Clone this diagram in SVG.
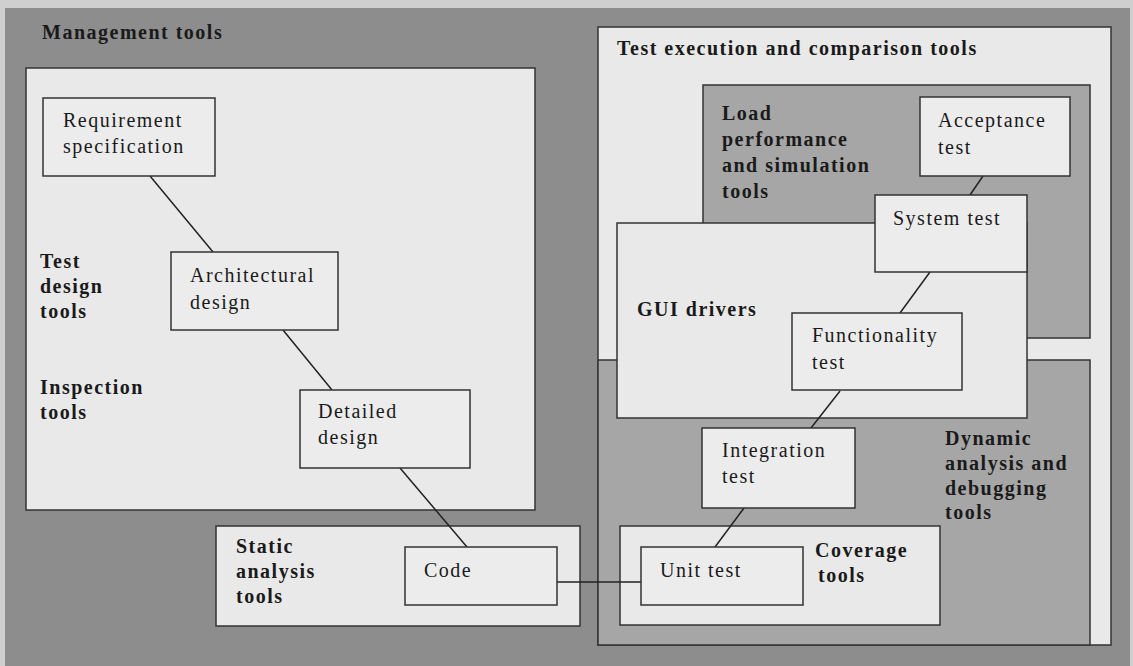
<svg xmlns="http://www.w3.org/2000/svg" width="1133" height="666" viewBox="0 0 1133 666">
<style>
.bg{fill:#8d8d8d}
.panel{fill:#e9e9e9;stroke:#333;stroke-width:1.5}
.dark{fill:#a6a6a6;stroke:#333;stroke-width:1.5}
.box{fill:#ececec;stroke:#333;stroke-width:1.5}
.lbl{font-family:"Liberation Serif",serif;font-weight:bold;font-size:20px;letter-spacing:1.5px;fill:#1a1a1a}
.txt{font-family:"Liberation Serif",serif;font-size:20px;letter-spacing:1.5px;fill:#1a1a1a}
.con line{stroke:#222;stroke-width:1.5}
</style>
<rect x="0" y="0" width="1133" height="666" fill="#cfcfcf"/>
<rect class="bg" x="5" y="8" width="1125" height="658"/>
<g id="management">
<rect class="panel" x="26" y="68" width="509" height="442"/>
<text class="lbl" x="42" y="39">Management tools</text>
<text class="lbl" x="40" y="268">Test</text>
<text class="lbl" x="40" y="293">design</text>
<text class="lbl" x="40" y="318">tools</text>
<text class="lbl" x="40" y="394">Inspection</text>
<text class="lbl" x="40" y="419">tools</text>
</g>
<g id="static">
<rect class="panel" x="216" y="526" width="364" height="100"/>
<text class="lbl" x="236" y="553">Static</text>
<text class="lbl" x="236" y="578">analysis</text>
<text class="lbl" x="236" y="603">tools</text>
</g>
<g id="execution">
<rect class="panel" x="598" y="27" width="513" height="618"/>
<text class="lbl" x="617" y="55">Test execution and comparison tools</text>
</g>
<g id="load">
<rect class="dark" x="703" y="85" width="387" height="253" fill="#a2a2a2"/>
<text class="lbl" x="722" y="120">Load</text>
<text class="lbl" x="722" y="146">performance</text>
<text class="lbl" x="722" y="172">and simulation</text>
<text class="lbl" x="722" y="198">tools</text>
</g>
<g id="dynamic">
<rect class="dark" x="598" y="360" width="492" height="285" fill="#ababab"/>
<text class="lbl" x="945" y="445">Dynamic</text>
<text class="lbl" x="945" y="470">analysis  and</text>
<text class="lbl" x="945" y="495">debugging</text>
<text class="lbl" x="945" y="519">tools</text>
</g>
<g id="gui">
<rect class="panel" x="617" y="223" width="410" height="195"/>
<text class="lbl" x="637" y="316">GUI drivers</text>
</g>
<g id="coverage">
<rect class="panel" x="620" y="526" width="320" height="99"/>
<text class="lbl" x="815" y="557">Coverage</text>
<text class="lbl" x="818" y="582">tools</text>
</g>
<g id="connectors" class="con">
<line x1="150" y1="176" x2="213" y2="252"/>
<line x1="283" y1="330" x2="332" y2="390"/>
<line x1="400" y1="468" x2="467" y2="547"/>
<line x1="557" y1="582" x2="641" y2="582"/>
<line x1="983" y1="176" x2="970" y2="195"/>
<line x1="930" y1="272" x2="900" y2="313"/>
<line x1="840" y1="391" x2="811" y2="428"/>
<line x1="744" y1="508" x2="715" y2="547"/>
</g>
<g id="req">
<rect class="box" x="43" y="98" width="172" height="78"/>
<text class="txt" x="63" y="127">Requirement</text>
<text class="txt" x="63" y="153">specification</text>
</g>
<g id="arch">
<rect class="box" x="171" y="252" width="167" height="78"/>
<text class="txt" x="190" y="282">Architectural</text>
<text class="txt" x="190" y="309">design</text>
</g>
<g id="detailed">
<rect class="box" x="300" y="390" width="170" height="78"/>
<text class="txt" x="318" y="418">Detailed</text>
<text class="txt" x="318" y="444">design</text>
</g>
<g id="code">
<rect class="box" x="405" y="547" width="152" height="58"/>
<text class="txt" x="424" y="577">Code</text>
</g>
<g id="acceptance">
<rect class="box" x="920" y="97" width="150" height="79"/>
<text class="txt" x="938" y="127">Acceptance</text>
<text class="txt" x="938" y="154">test</text>
</g>
<g id="system">
<rect class="box" x="875" y="195" width="152" height="77"/>
<text class="txt" x="893" y="225">System test</text>
</g>
<g id="functionality">
<rect class="box" x="792" y="313" width="170" height="77"/>
<text class="txt" x="812" y="342">Functionality</text>
<text class="txt" x="812" y="369">test</text>
</g>
<g id="integration">
<rect class="box" x="702" y="428" width="153" height="80"/>
<text class="txt" x="722" y="457">Integration</text>
<text class="txt" x="722" y="483">test</text>
</g>
<g id="unit">
<rect class="box" x="641" y="547" width="162" height="58"/>
<text class="txt" x="660" y="577">Unit test</text>
</g>
</svg>
